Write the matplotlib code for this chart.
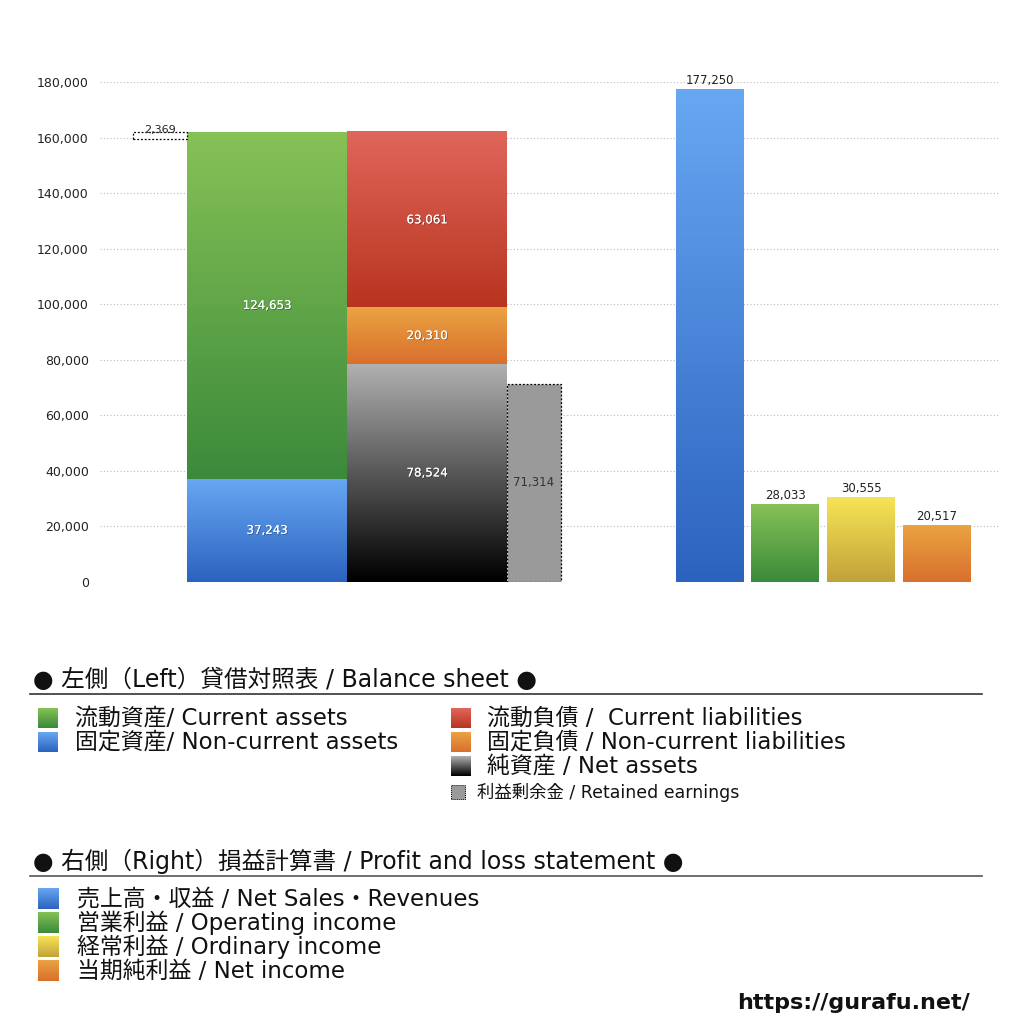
import numpy as np
import matplotlib
matplotlib.use("Agg")
from matplotlib import pyplot as plt
from matplotlib.colors import LinearSegmentedColormap
from matplotlib.patches import Rectangle
import matplotlib.patheffects as pe

plt.rcParams['font.family'] = ['DejaVu Sans', 'Noto Sans CJK JP']

# balance sheet (left)
assets_labels = ['固定資産', '流動資産']
assets_values = [37243, 124653]
liab_labels = ['純資産', '固定負債', '流動負債']
liab_values = [78524, 20310, 63061]
retained_earnings = 71314
treasury = 2369

# profit and loss (right)
pl_labels = ['売上高・収益', '営業利益', '経常利益', '当期純利益']
pl_values = [177250, 28033, 30555, 20517]

yticks = [0, 20000, 40000, 60000, 80000, 100000, 120000, 140000, 160000, 180000]

# gradient colours (top, bottom)
c_green = ('#86c156', '#3b8a3b')
c_blue = ('#67a7f2', '#2c63bf')
c_red = ('#e0665b', '#b8341f')
c_orange = ('#eba242', '#d8702d')
c_black = ('#b0b0b0', '#000000')
c_yellow = ('#f6e455', '#c2a23a')


def grad(ax, x0, y0, w, h, cols, **kw):
    cmap = LinearSegmentedColormap.from_list('g', [cols[1], cols[0]])
    img = np.linspace(0, 1, 100).reshape(-1, 1)
    ax.imshow(img, cmap=cmap, extent=(x0, x0 + w, y0, y0 + h), origin='lower',
              aspect='auto', interpolation='bilinear', zorder=2, **kw)


fig = plt.figure(figsize=(10.24, 10.24), dpi=100)
ax = fig.add_axes([100/1024, 1 - 582/1024, 900/1024, 500/1024])

shadow = [pe.withSimplePatchShadow(offset=(0.6, -0.6), shadow_rgbFace='black', alpha=0.35), pe.Normal()]

# assets column
xa, wa = 87, 160
bottom = 0
for v, cols in zip(assets_values, [c_blue, c_green]):
    grad(ax, xa, bottom, wa, v, cols)
    ax.text(xa + wa/2, bottom + v/2, f'{v:,}', color='white', ha='center', va='center',
            fontsize=8.5, zorder=5, path_effects=shadow)
    bottom += v
total_assets = bottom

# treasury stock box
ax.add_patch(Rectangle((33, total_assets - treasury), 54, treasury, facecolor='white',
                       edgecolor='black', linestyle=(0, (1.5, 1.5)), lw=0.9, zorder=3))
ax.text(60, total_assets - 900, f'{treasury:,}', ha='center', va='bottom', fontsize=8,
        color='#222222', zorder=5)

# liabilities + net assets column
xl = 247
bottom = 0
for v, cols in zip(liab_values, [c_black, c_orange, c_red]):
    grad(ax, xl, bottom, wa, v, cols)
    ax.text(xl + wa/2, bottom + v/2, f'{v:,}', color='white', ha='center', va='center',
            fontsize=8.5, zorder=5, path_effects=shadow)
    bottom += v

# retained earnings
ax.add_patch(Rectangle((407, 0), 54, retained_earnings, facecolor='#9a9a9a',
                       edgecolor='black', linestyle=(0, (1.5, 1.5)), lw=0.9, zorder=3))
ax.text(434, retained_earnings/2, f'{retained_earnings:,}', ha='center', va='center',
        fontsize=8.5, color='#333333', zorder=5)

# P&L bars
pl_x = [576, 651, 727, 803]
pl_w = 68
for x, v, cols in zip(pl_x, pl_values, [c_blue, c_green, c_yellow, c_orange]):
    grad(ax, x, 0, pl_w, v, cols)
    ax.text(x + pl_w/2, v + 800, f'{v:,}', ha='center', va='bottom', fontsize=8.5,
            color='#222222', zorder=5)

ax.set_xlim(0, 900)
ax.set_ylim(0, 180000)
ax.set_yticks(yticks)
ax.set_yticklabels([f'{t:,}' for t in yticks], fontsize=9, color='#222222')
ax.tick_params(axis='y', length=0, pad=8)
ax.set_xticks([])
for s in ax.spines.values():
    s.set_visible(False)
ax.grid(axis='y', color='#bbbbbb', linestyle=(0, (1, 2)), lw=0.8, zorder=0)
ax.set_axisbelow(True)


def fy(py):
    return 1 - py/1024


def swatch(px, py, size, cols, dotted=False):
    if dotted:
        fig.patches.append(Rectangle((px/1024, fy(py + size)), size/1024, size/1024,
                                     transform=fig.transFigure, facecolor='#9a9a9a',
                                     edgecolor='black', linestyle=(0, (1, 1)), lw=0.7))
        return
    sax = fig.add_axes([px/1024, fy(py + size), size/1024, size/1024])
    cmap = LinearSegmentedColormap.from_list('g', [cols[1], cols[0]])
    sax.imshow(np.linspace(0, 1, 50).reshape(-1, 1), cmap=cmap, origin='lower',
               aspect='auto', extent=(0, 1, 0, 1))
    sax.axis('off')


fs = 16.5

# left legend
fig.text(33/1024, fy(680), '● 左側（Left）貸借対照表 / Balance sheet ●', fontsize=17,
         va='center', ha='left', color='#111111')
fig.add_artist(plt.Line2D([30/1024, 982/1024], [fy(694), fy(694)], color='#333333', lw=1.2))
left_items = [(708, c_green, '流動資産/ Current assets'),
              (732, c_blue, '固定資産/ Non-current assets')]
for py, cols, t in left_items:
    swatch(38, py, 20, cols)
    fig.text(75/1024, fy(py + 10), t, fontsize=fs, va='center', color='#111111')
right_items = [(708, c_red, '流動負債 /  Current liabilities'),
               (732, c_orange, '固定負債 / Non-current liabilities'),
               (756, c_black, '純資産 / Net assets')]
for py, cols, t in right_items:
    swatch(451, py, 20, cols)
    fig.text(487/1024, fy(py + 10), t, fontsize=fs, va='center', color='#111111')
swatch(451, 785, 14, None, dotted=True)
fig.text(477/1024, fy(792), '利益剰余金 / Retained earnings', fontsize=12.5, va='center',
         color='#111111')

# right legend
fig.text(33/1024, fy(861), '● 右側（Right）損益計算書 / Profit and loss statement ●',
         fontsize=17, va='center', ha='left', color='#111111')
fig.add_artist(plt.Line2D([30/1024, 982/1024], [fy(876), fy(876)], color='#555555', lw=1.2))
pl_legend = ['売上高・収益 / Net Sales・Revenues', '営業利益 / Operating income',
             '経常利益 / Ordinary income', '当期純利益 / Net income']
for i, (t, cols) in enumerate(zip(pl_legend, [c_blue, c_green, c_yellow, c_orange])):
    py = 888 + 24*i
    swatch(38, py, 21, cols)
    fig.text(77/1024, fy(py + 11), t, fontsize=fs, va='center', color='#111111')

fig.text(970/1024, fy(1003), 'https://gurafu.net/', fontsize=16, fontweight='bold',
         ha='right', va='center', color='#111111')

fig.savefig('out.png', dpi=100)
